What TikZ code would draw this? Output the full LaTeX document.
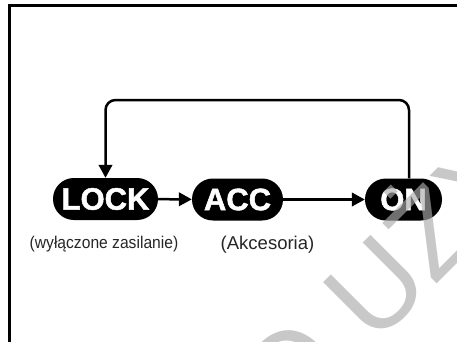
\documentclass[tikz,border=0pt]{standalone}
\usepackage{fontspec}
\setmainfont{Liberation Sans}
\newfontfamily\heavyfont{Liberation Sans Bold}[FakeBold=1.6]
\usetikzlibrary{arrows.meta}
\definecolor{wmgray}{gray}{0.67}
\begin{document}
\begin{tikzpicture}[x=1pt,y=-1pt,
  pill/.style={fill=black, text=white, font=\fontsize{31}{31}\selectfont\heavyfont,
    rounded corners=20.9pt, minimum height=42pt, inner sep=0pt},
  conn/.style={line width=2.5pt, -{Triangle[length=13pt,width=13.5pt]}},
  lbl/.style={inner sep=0pt, text=black!85},
  frameline/.style={line width=3pt, line join=miter}]
\useasboundingbox (0,0) rectangle (457,341);
\fill[white] (0,0) rectangle (457,341);
% frame
\draw[frameline] (9.5,345) -- (9.5,5.5) -- (460,5.5);
% states
\node[pill, minimum width=105pt] (lock) at (105.5,199) {LOCK};
\node[pill, minimum width=91pt] (acc) at (237.5,199.5) {ACC};
\node[pill, minimum width=77pt] (on) at (403.5,199.5) {ON};
% labels
\node[lbl, font=\fontsize{17}{17}\selectfont] (l1) at (104,244) {\scalebox{0.92}[1]{(wyłączone zasilanie)}};
\node[lbl, font=\fontsize{18.5}{18.5}\selectfont] (l2) at (267.5,245) {(Akcesoria)};
% connectors
\draw[conn] (lock) -- (acc);
\draw[conn] (acc) -- (on);
\coordinate (looptop) at (250,100);
\draw[conn, rounded corners=10pt] ([xshift=5.5pt]on.north) |- (looptop) -| (lock.north);
% watermark
\begin{scope}
\clip (0,0) rectangle (457,341);
\node[rotate=45, anchor=base west, font=\fontsize{118}{118}\selectfont, text=wmgray, opacity=0.65, inner sep=0pt] (wm) at (226,495) {DO UŻYTKU};
\end{scope}
\end{tikzpicture}
\end{document}
